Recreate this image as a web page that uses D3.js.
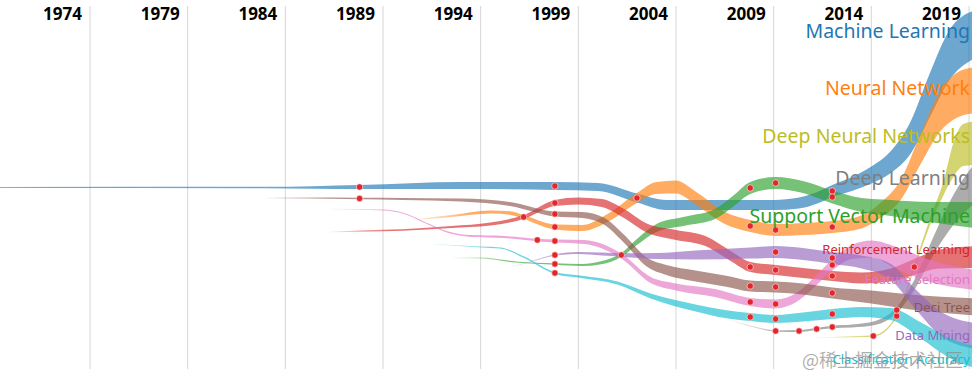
<!DOCTYPE html>
<html><head><meta charset="utf-8">
<script src="https://cdn.jsdelivr.net/npm/d3@7"></script>
<style>html,body{margin:0;padding:0;background:#fff;} svg{display:block;}</style>
</head><body><svg id="chart" width="972" height="378"></svg>
<script>
const tickYears = [1974,1979,1984,1989,1994,1999,2004,2009,2014,2019];
const topicNames = ["Machine Learning","Neural Network","Deep Neural Networks","Deep Learning","Support Vector Machine","Reinforcement Learning","Feature Selection","Deci Tree","Data Mining","Classification Accuracy"];

// each point: [year, position, frequency]
const machineLearning = [[1969,17.25,2],[1983,17.25,2.6],[1987.8,17.3,8],[1993,17.45,14],[1997.8,17.4,16],[2000,17.3,16],[2002,16.2,18],[2003.5,15.5,20],[2009,15.5,20],[2010.3,15.7,22],[2011.2,16.2,23],[2012,16.9,24],[2013,17.6,28],[2014,18.5,34],[2015,19.8,44],[2016,22.2,64],[2017,26.5,88],[2018,30.5,100],[2019.3,32.6,96]];
const neuralNetwork = [[1990.5,14.0,0.8],[1992.5,14.4,4],[1994.5,14.8,6],[1995.5,14.7,7],[1996.2,14.3,8],[1997.8,13.3,10],[1999.2,13.2,12],[2000.5,14.2,16],[2002,16.2,20],[2003,17.2,24],[2004,17.3,26],[2005,16.2,26],[2006.5,14.2,24],[2007.8,13.4,24],[2009.1,13.0,24],[2010.5,13.1,24],[2012,13.3,24],[2013.5,13.8,26],[2014.5,15.0,30],[2015.5,17.0,40],[2016.5,21.0,60],[2017.5,24.8,80],[2018.4,26.5,90],[2019.3,27.0,92]];
const deepNeuralNetworks = [[2011,2.2,0.8],[2012.5,2.3,2],[2014.1,2.4,3],[2015.3,4.4,5],[2016.2,9.3,8],[2017,13.8,14],[2017.7,17.2,28],[2018.2,20.0,68],[2018.7,21.5,84],[2019.3,21.7,88]];
const deepLearning = [[2006.8,4.0,0.8],[2008,3.3,2],[2009.1,2.9,3],[2010.3,2.9,4],[2011.2,3.1,4],[2012,3.3,5],[2013,3.4,6],[2014.2,3.7,8],[2015.3,5.0,12],[2016.2,7.5,20],[2017.2,11.5,36],[2018.2,15.0,60],[2019.3,17.7,80]];
const supportVectorMachine = [[1992.6,10.2,0.8],[1994,10.2,2],[1995.8,9.8,2.4],[1997.8,9.6,3],[1999.2,9.5,4],[2000.1,9.7,6],[2001.2,10.5,8],[2002,11.8,12],[2003,13.2,16],[2004.5,13.9,18],[2006,14.6,20],[2007,16.0,22],[2007.8,17.2,24],[2009.1,17.7,24],[2010.5,17.3,24],[2012,16.3,26],[2013.5,15.5,28],[2015,15.2,32],[2017,14.8,40],[2019.3,14.5,52]];
const reinforcementLearning = [[1986.3,12.8,0.8],[1988,12.9,3],[1990,13.0,3],[1992.5,13.3,4],[1994.5,13.6,6],[1996.2,14.3,8],[1997.8,15.7,12],[1999,15.9,14],[2000.2,15.7,16],[2001.3,14.7,18],[2002.5,13.2,18],[2004,12.5,20],[2005.5,11.9,20],[2006.8,10.4,20],[2007.8,9.3,20],[2009.1,9.0,20],[2010.5,8.7,20],[2012,8.4,20],[2013.5,8.2,22],[2015,8.5,26],[2016.2,9.3,32],[2017.5,10.1,38],[2019.3,10.3,44]];
const featureSelection = [[1986.3,15.1,0.8],[1989,15.0,2],[1990,14.7,2],[1991.2,13.7,2.4],[1992.3,12.8,3],[1993.5,12.4,3.6],[1995.2,12.3,4],[1996.9,12.0,5],[1997.8,11.9,6],[1999.3,11.8,8],[2001.2,10.4,10],[2002.7,8.0,12],[2004,7.3,14],[2006,6.7,16],[2007.8,5.8,16],[2009.1,5.6,18],[2010.2,6.3,18],[2011.2,8.0,20],[2012,9.5,22],[2013,10.8,28],[2014,11.1,34],[2015.3,10.2,44],[2017,8.9,44],[2019.3,8.0,40]];
const deciTree = [[1983,16.2,0.8],[1985,16.2,2],[1987.8,16.15,3],[1990,16.1,4],[1993,16.0,6],[1995.5,15.6,8],[1997.8,14.6,10],[1999.2,14.5,12],[2000.3,13.9,14],[2001.3,12.2,16],[2002.5,9.8,18],[2003.5,9.0,20],[2005,8.4,22],[2006.5,7.9,22],[2007.8,7.4,22],[2009.1,7.3,22],[2010.5,7.1,22],[2012,6.7,22],[2014,6.3,26],[2016,5.8,30],[2019.3,5.3,34]];
const dataMining = [[1995.5,9.3,0.8],[1996.5,9.8,2],[1997.8,10.5,3],[1999,10.7,4],[2000.2,10.6,6],[2001.2,10.5,7],[2003,10.4,12],[2005,10.5,18],[2007.8,10.7,22],[2009.1,10.8,24],[2010.5,10.6,24],[2012,10.2,24],[2013.5,9.8,26],[2015,8.8,32],[2016.3,6.0,40],[2017.5,3.7,48],[2019.3,2.4,52]];
const classificationAccuracy = [[1991.6,11.6,0.8],[1994,11.3,2],[1995,11.2,2.4],[1996.2,10.3,3],[1997.8,8.7,4],[1999.2,8.3,5],[2001,7.7,6],[2002.7,6.4,10],[2005,5.2,14],[2006.5,4.6,16],[2007.8,4.3,16],[2009.1,4.1,16],[2010.5,4.3,18],[2012,4.6,20],[2013.5,4.8,20],[2015,4.6,24],[2016.5,3.0,32],[2018,1.2,40],[2019.3,0.3,44]];

// years of the marked events on each topic
const eventYears = [
  [1987.8,1997.8,2002,2012],
  [1996.2,1997.8,2007.8,2009.1,2012],
  [2014.1,2015.3],
  [2009.1,2010.3,2011.2,2012,2015.3],
  [1997.8,2007.8,2009.1,2012],
  [1997.8,2007.8,2009.1,2012,2016.2],
  [1996.9,1997.8,2007.8,2009.1,2012],
  [1987.8,1997.8,2007.8,2009.1,2012],
  [1997.8,2001.2,2009.1,2012],
  [1997.8,2007.8,2009.1,2012]
];
const watermark = "@稀土掘金技术社区";

const topicSeries = [machineLearning,neuralNetwork,deepNeuralNetworks,deepLearning,supportVectorMachine,reinforcementLearning,featureSelection,deciTree,dataMining,classificationAccuracy];
const colors = d3.schemeCategory10;
const colorOf = [colors[0],colors[1],colors[8],colors[7],colors[2],colors[3],colors[6],colors[5],colors[4],colors[9]];
const labelDy = [4,5,0,2,8,-3,4,5,4,7];

const svg = d3.select("#chart");
const x = d3.scaleLinear().domain([1974,2019]).range([90,969]);
const y = d3.scaleLinear().domain([0,36]).range([360,0]);
const w = d3.scaleLinear().domain([0,100]).range([0,50]);

// grid
svg.append("g").selectAll("line").data(tickYears).join("line")
  .attr("x1", d=>x(d)).attr("x2", d=>x(d)).attr("y1", 6).attr("y2", 369)
  .attr("stroke", "#d6d6d6").attr("stroke-width", 1);
svg.append("g").selectAll("text").data(tickYears).join("text")
  .attr("x", d=>x(d)-8).attr("y", 20).attr("text-anchor","end")
  .attr("font-family","'Noto Sans', sans-serif").attr("font-weight","bold").attr("font-size",17)
  .attr("fill","#000").text(d=>d);

const defs = svg.append("defs");
topicSeries.forEach((s,i)=>{
  const x0 = x(s[0][0]);
  const g = defs.append("linearGradient").attr("id","fade"+i)
    .attr("gradientUnits","userSpaceOnUse").attr("x1",x0).attr("x2",x0+60).attr("y1",0).attr("y2",0);
  g.append("stop").attr("offset",0).attr("stop-color",colorOf[i]).attr("stop-opacity", i===0?0.55:0.1);
  g.append("stop").attr("offset",1).attr("stop-color",colorOf[i]).attr("stop-opacity",0.65);
});

const area = d3.area().curve(d3.curveMonotoneX)
  .x(d=>x(d[0]))
  .y0(d=>y(d[1]) - w(d[2])/2)
  .y1(d=>y(d[1]) + w(d[2])/2);

svg.append("g").selectAll("path").data(topicSeries).join("path")
  .attr("d", area).attr("fill", (d,i)=>`url(#fade${i})`);

// event dots
const dots = [];
eventYears.forEach((ys,i)=>ys.forEach(yr=>{
  const p = topicSeries[i].find(q=>q[0]===yr);
  if (p) dots.push(p);
}));
svg.append("g").selectAll("circle").data(dots).join("circle")
  .attr("cx", d=>x(d[0])).attr("cy", d=>y(d[1])).attr("r", 3.2)
  .attr("fill","#e3262b").attr("stroke","#fff").attr("stroke-opacity",0.7).attr("stroke-width",0.8);

// labels
svg.append("g").selectAll("text").data(topicSeries).join("text")
  .attr("x", 970).attr("y", (d,i)=>y(d[d.length-1][1]) + labelDy[i])
  .attr("text-anchor","end")
  .attr("font-family","'Noto Sans', sans-serif")
  .attr("font-size",(d,i)=> i<5 ? 19.5 : 13)
  .attr("fill",(d,i)=>colorOf[i])
  .text((d,i)=>topicNames[i]);

svg.append("text").attr("x",963).attr("y",367).attr("text-anchor","end")
  .attr("font-family","'Noto Sans CJK SC', sans-serif").attr("font-size",18)
  .attr("fill","#8a8a8a").attr("fill-opacity",0.7).text(watermark);
</script></body></html>
